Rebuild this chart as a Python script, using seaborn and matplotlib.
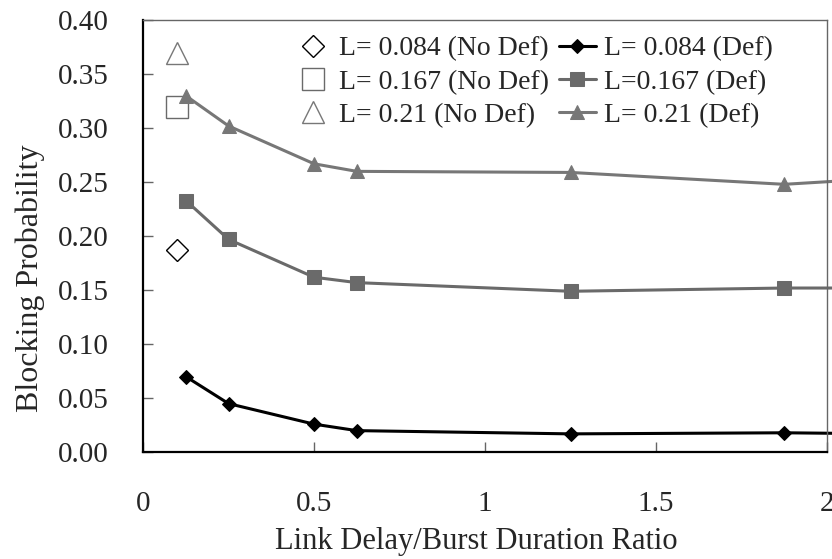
import pandas as pd
import numpy as np

import matplotlib
matplotlib.use("Agg")
import matplotlib.pyplot as plt
import seaborn as sns

# ---------------------
# Data
# ---------------------

ratio = [0.125, 0.25, 0.5, 0.625, 1.25, 1.875, 2.5]

block_084_def = [0.070, 0.045, 0.026, 0.020, 0.017, 0.018, 0.016]
block_167_def = [0.233, 0.197, 0.162, 0.157, 0.149, 0.152, 0.152]
block_21_def = [0.330, 0.302, 0.267, 0.260, 0.259, 0.248, 0.260]

nodef_ratio = [0.1]
block_084_nodef = [0.187]
block_167_nodef = [0.320]
block_21_nodef = [0.370]

xticks = [0, 0.5, 1, 1.5, 2]
xtick_labels = ["0", "0.5", "1", "1.5", "2"]
yticks = [0.00, 0.05, 0.10, 0.15, 0.20, 0.25, 0.30, 0.35, 0.40]

# ---------------------
# Style
# ---------------------

sns.set_theme(style="white")
plt.rcParams["font.family"] = ["Liberation Serif", "DejaVu Serif"]

fs = 21
black = "#000000"
gray1 = "#6a6a6a"
gray2 = "#777777"

fig, ax = plt.subplots(figsize=(8.32, 5.59), dpi=100)
fig.subplots_adjust(left=0.172, right=0.994, top=0.964, bottom=0.191)

# ---------------------
# No Def points (open markers)
# ---------------------

nodef = [
    (block_084_nodef, "D", 11.5, black, "L= 0.084 (No Def)"),
    (block_167_nodef, "s", 16, gray1, "L= 0.167 (No Def)"),
    (block_21_nodef, "^", 16, gray2, "L= 0.21 (No Def)"),
]
for vals, mk, ms, col, lab in nodef:
    sns.lineplot(
        x=nodef_ratio, y=vals, ax=ax,
        marker=mk, markersize=ms, linestyle="",
        markerfacecolor="white", markeredgecolor=col,
        markeredgewidth=1.0, color=col, label=lab,
        errorbar=None
    )

# ---------------------
# Def lines
# ---------------------

deflines = [
    (block_084_def, "D", 7.5, black, "L= 0.084 (Def)"),
    (block_167_def, "s", 10, gray1, "L=0.167 (Def)"),
    (block_21_def, "^", 10, gray2, "L= 0.21 (Def)"),
]
for vals, mk, ms, col, lab in deflines:
    sns.lineplot(
        x=ratio, y=vals, ax=ax,
        marker=mk, markersize=ms, linewidth=2.2,
        color=col, markeredgecolor=col, markerfacecolor=col,
        label=lab, errorbar=None, clip_on=False
    )

# ---------------------
# Axes
# ---------------------

ax.set_xlim(0, 2)
ax.set_ylim(0, 0.40)
ax.set_xticks(xticks)
ax.set_xticklabels(xtick_labels)
ax.set_yticks(yticks)
ax.set_yticklabels([f"{v:.2f}" for v in yticks])

ax.tick_params(axis="x", direction="in", length=7, width=1, color="#666666",
               pad=28, labelsize=fs, bottom=True, top=False)
ax.tick_params(axis="y", direction="in", length=7, width=1, color="#666666",
               pad=25, labelsize=fs, left=True, right=False)

for side in ["left", "bottom"]:
    ax.spines[side].set_color("black")
    ax.spines[side].set_linewidth(1.6)
for side in ["top", "right"]:
    ax.spines[side].set_color("#666666")
    ax.spines[side].set_linewidth(1.0)

ax.set_xlabel("Link Delay/Burst Duration Ratio", fontsize=22, labelpad=7)
ax.set_ylabel("Blocking Probability", fontsize=23, labelpad=9)
ax.xaxis.label.set_x(0.487)
ax.yaxis.label.set_y(0.403)

# ---------------------
# Legend
# ---------------------

handles, labels = ax.get_legend_handles_labels()
ax.legend(
    handles, labels, ncol=2, frameon=False, fontsize=20,
    loc="upper left", bbox_to_anchor=(295 / 832, 1 - 36 / 559),
    bbox_transform=fig.transFigure, borderpad=0, borderaxespad=0,
    handlelength=1.3, handletextpad=0.3, columnspacing=0.36,
    labelspacing=0.28
)

plt.savefig("out.png", dpi=100)
